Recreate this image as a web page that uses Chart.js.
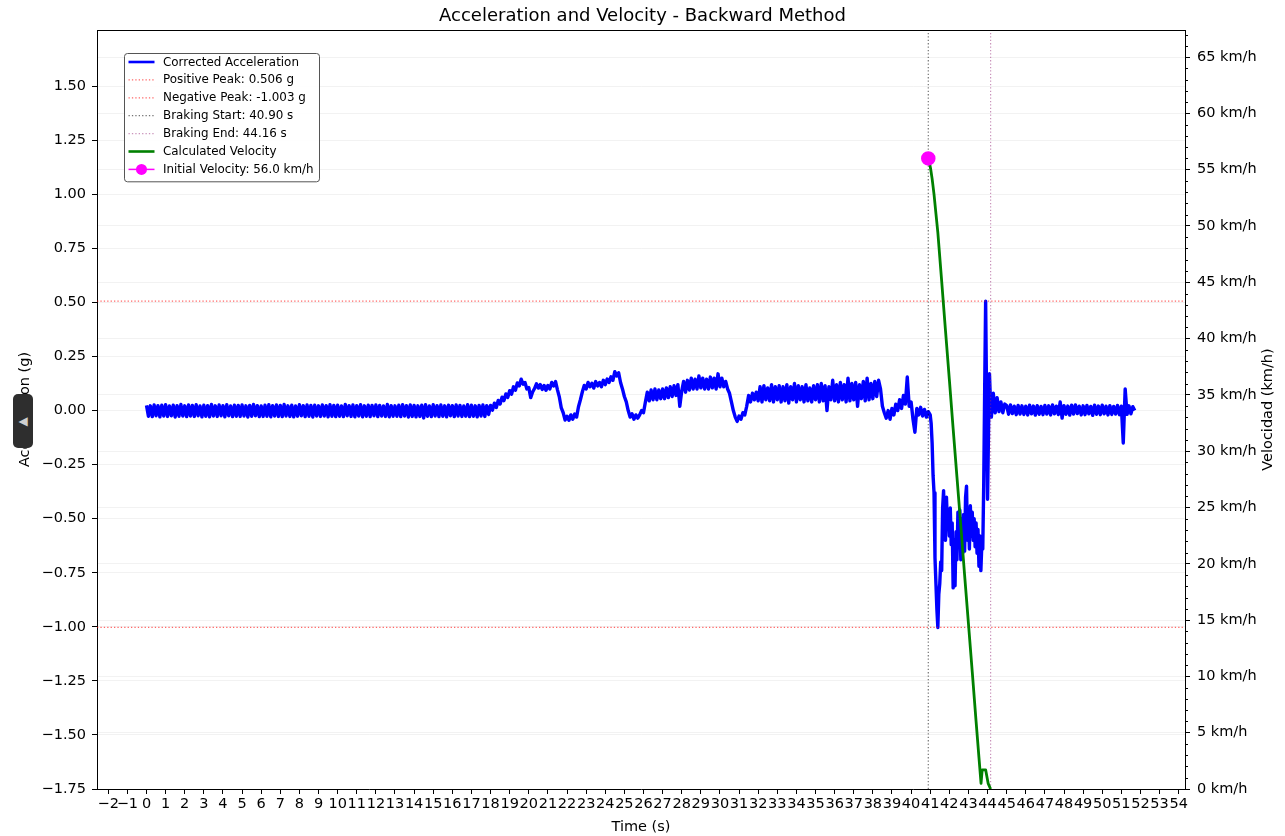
<!DOCTYPE html>
<html>
<head>
<meta charset="utf-8">
<title>Acceleration and Velocity - Backward Method</title>
<script src="https://cdn.jsdelivr.net/npm/chart.js@4.4.1/dist/chart.umd.min.js"></script>
<style>
  html, body { margin: 0; padding: 0; background: #fff; }
  #wrap { position: relative; width: 1285px; height: 836px; }
  #handle {
    position: absolute; left: 13px; top: 394px; width: 20px; height: 54px;
    background: #2e2e2e; border-radius: 5px; color: #cfcfcf;
    font: 12px "DejaVu Sans"; display: flex; align-items: center; justify-content: center;
  }
</style>
</head>
<body>
<div id="wrap">
  <canvas id="chart" width="1285" height="836"></canvas>
  <div id="handle">◀</div>
</div>
<script>
// Aceleración corregida (g). Antes de la frenada: cada 0.1 s desde t = 0, una fila por segundo
const accelBefore = [
  0.024,-0.026,0.022,-0.028,0.026,-0.024,0.023,-0.029,0.025,-0.025,
  0.027,-0.027,0.021,-0.024,0.025,-0.030,0.023,-0.026,0.028,-0.025,
  0.022,-0.028,0.026,-0.025,0.024,-0.027,0.027,-0.024,0.021,-0.029,
  0.025,-0.026,0.023,-0.029,0.028,-0.025,0.022,-0.027,0.026,-0.024,
  0.023,-0.029,0.027,-0.024,0.021,-0.028,0.025,-0.026,0.024,-0.027,
  0.026,-0.025,0.022,-0.030,0.024,-0.026,0.028,-0.024,0.023,-0.028,
  0.021,-0.027,0.025,-0.026,0.027,-0.029,0.023,-0.025,0.026,-0.027,
  0.024,-0.028,0.028,-0.025,0.022,-0.027,0.025,-0.029,0.021,-0.026,
  0.027,-0.024,0.023,-0.028,0.026,-0.026,0.024,-0.030,0.025,-0.025,
  0.022,-0.027,0.026,-0.025,0.023,-0.029,0.027,-0.026,0.024,-0.028,
  0.025,-0.026,0.021,-0.028,0.028,-0.024,0.023,-0.027,0.026,-0.029,
  0.023,-0.025,0.027,-0.029,0.022,-0.026,0.025,-0.028,0.024,-0.024,
  0.026,-0.028,0.024,-0.025,0.021,-0.027,0.028,-0.029,0.023,-0.026,
  0.022,-0.026,0.025,-0.028,0.027,-0.025,0.023,-0.030,0.026,-0.027,
  0.024,-0.029,0.022,-0.027,0.025,-0.034,0.027,-0.026,0.021,-0.028,
  0.027,-0.025,0.023,-0.028,0.026,-0.026,0.022,-0.029,0.025,-0.024,
  0.023,-0.028,0.026,-0.025,0.024,-0.027,0.021,-0.026,0.027,-0.028,
  0.025,-0.026,0.022,-0.029,0.024,-0.025,0.026,-0.027,0.023,-0.018,
  0.024,0.002,0.034,0.014,0.047,0.030,0.062,0.046,0.077,0.061,
  0.092,0.076,0.110,0.094,0.128,0.114,0.145,0.122,0.130,0.100,
  0.106,0.060,0.086,0.102,0.124,0.104,0.120,0.098,0.116,0.094,
  0.116,0.100,0.130,0.114,0.134,0.096,0.062,0.012,-0.010,-0.044,
  -0.026,-0.045,-0.020,-0.040,-0.016,-0.030,0.018,0.050,0.086,0.116,
  0.100,0.130,0.110,0.126,0.104,0.134,0.114,0.130,0.110,0.140,
  0.120,0.146,0.130,0.156,0.140,0.180,0.160,0.175,0.130,0.100,
  0.065,0.040,0.000,-0.030,-0.015,-0.040,-0.020,-0.035,-0.020,0.000,
  -0.010,0.040,0.085,0.045,0.095,0.050,0.100,0.050,0.095,0.055,
  0.100,0.055,0.105,0.060,0.110,0.065,0.115,0.070,0.120,0.020,
  0.090,0.135,0.085,0.140,0.095,0.150,0.100,0.145,0.100,0.160,
  0.105,0.150,0.100,0.145,0.100,0.155,0.105,0.150,0.100,0.170,
  0.110,0.150,0.110,0.135,0.100,0.080,0.040,0.000,-0.030,-0.050,
  -0.025,-0.040,-0.010,-0.020,0.020,0.070,0.040,0.080,0.050,0.085,
  0.045,0.110,0.040,0.115,0.050,0.105,0.045,0.120,0.040,0.110,
  0.050,0.115,0.040,0.110,0.045,0.120,0.035,0.110,0.050,0.125,
  0.040,0.115,0.050,0.110,0.040,0.120,0.045,0.105,0.040,0.115,
  0.050,0.120,0.040,0.125,0.045,0.115,0.000,0.110,0.050,0.140,
  0.045,0.120,0.040,0.130,0.050,0.120,0.040,0.150,0.045,0.125,
  0.050,0.130,0.020,0.120,0.055,0.135,0.045,0.150,0.050,0.125,
  0.055,0.135,0.065,0.140,0.100,0.020,-0.010,-0.035,0.000,-0.040,
  0.010,-0.020,0.030,0.000,0.050,0.010,0.070,0.030,0.155,0.020,
  0.040,-0.040,-0.100,0.010,-0.020,0.015,-0.025,0.005,-0.030,-0.005
];

// Frenada: cada 0.05 s desde t = 41.00 hasta 44.15
const accelBraking = [
  -0.020,-0.060,-0.150,-0.300,-0.380,-0.680,-0.800,-0.920,-1.003,-0.850,
  -0.800,-0.700,-0.740,-0.450,-0.370,-0.550,-0.600,-0.400,-0.520,-0.470,
  -0.580,-0.450,-0.620,-0.520,-0.820,-0.600,-0.810,-0.560,-0.690,-0.470,
  -0.620,-0.460,-0.690,-0.500,-0.660,-0.480,-0.650,-0.400,-0.350,-0.600,
  -0.480,-0.640,-0.440,-0.580,-0.470,-0.600,-0.500,-0.630,-0.520,-0.660,
  -0.550,-0.720,-0.580,-0.740,-0.620,-0.640,-0.340,0.100,0.506,0.050,
  -0.410,-0.100,0.170,0.050
];

// Después de la frenada: cada 0.1 s desde t = 44.2
const accelAfter = [
  -0.030,0.080,-0.010,0.060,-0.005,0.040,-0.010,0.030,
  0.023,-0.017,0.026,-0.014,0.020,-0.019,0.024,-0.016,0.022,-0.018,
  0.020,-0.020,0.025,-0.015,0.021,-0.021,0.023,-0.017,0.019,-0.019,
  0.024,-0.016,0.022,-0.020,0.026,-0.015,0.020,-0.018,0.040,-0.035,
  0.023,-0.017,0.021,-0.021,0.025,-0.016,0.026,-0.014,0.020,-0.020,
  0.022,-0.019,0.024,-0.015,0.019,-0.022,0.025,-0.017,0.021,-0.019,
  0.025,-0.015,0.020,-0.020,0.023,-0.018,0.019,-0.016,0.024,-0.019,
  0.020,-0.150,0.100,-0.017,0.022,-0.015,0.018,0.000
];

// Velocidad integrada hacia atrás durante la frenada
const velTime = [40.90, 40.95, 41.02, 41.10, 41.20, 41.30, 41.40, 41.60, 41.80, 42.00, 42.20, 42.40,
                 42.60, 42.80, 43.00, 43.20, 43.40, 43.55, 43.66, 43.72, 43.90, 44.03, 44.16];
const velKmh  = [56.0, 55.7, 55.1, 54.2, 52.8, 51.1, 49.4, 45.1, 40.7, 36.4, 32.0, 27.7,
                 23.4, 19.0, 14.7, 10.4, 6.0, 2.8, 0.5, 1.7, 1.7, 0.5, 0.0];

const peakPos = 0.506;
const peakNeg = -1.003;
const brakeStart = 40.90;
const brakeEnd = 44.16;
const v0 = 56.0;

const timeTicks = [-2,-1,0,1,2,3,4,5,6,7,8,9,10,11,12,13,14,15,16,17,18,19,20,21,22,23,24,25,26,
                   27,28,29,30,31,32,33,34,35,36,37,38,39,40,41,42,43,44,45,46,47,48,49,50,51,52,53,54];
const accelTicks = [-1.75,-1.50,-1.25,-1.00,-0.75,-0.50,-0.25,0.00,0.25,0.50,0.75,1.00,1.25,1.50];
const speedTicks = [0,5,10,15,20,25,30,35,40,45,50,55,60,65];

const xMin = -2.59, xMax = 54.33;
const aMin = -1.75, aMax = 1.76;
const vMin = 0, vMax = 67.4;

const FONT = 'DejaVu Sans';
const TICK = 14.5;
const minus = s => String(s).replace('-', '\u2212');

const series = (t0, step, values) => values.map((a, i) => ({ x: +(t0 + i * step).toFixed(2), y: a }));
const accelPoints = [
  ...series(0, 0.1, accelBefore),
  ...series(41.0, 0.05, accelBraking),
  ...series(44.2, 0.1, accelAfter)
];
const velPoints = velTime.map((t, i) => ({ x: t, y: velKmh[i] }));

const dotted = [1.3, 2.1];

// marco superior, subdivisiones del eje derecho, título derecho y leyenda
const extras = {
  id: 'extras',
  afterDraw(chart) {
    const { ctx, chartArea: a, scales } = chart;
    ctx.save();
    ctx.strokeStyle = '#000';
    ctx.lineWidth = 1;
    ctx.beginPath();
    ctx.moveTo(a.left, a.top + 0.5);
    ctx.lineTo(a.right, a.top + 0.5);
    ctx.stroke();

    // subdivisiones de 1 km/h
    ctx.beginPath();
    for (let v = vMin; v <= vMax; v++) {
      if (v % 5 === 0) continue;
      const y = Math.round(scales.y1.getPixelForValue(v)) + 0.5;
      ctx.moveTo(a.right, y);
      ctx.lineTo(a.right + 3, y);
    }
    ctx.stroke();

    ctx.fillStyle = '#000';
    ctx.font = TICK + 'px "' + FONT + '"';
    ctx.textAlign = 'center';
    ctx.textBaseline = 'middle';
    ctx.translate(1268, (a.top + a.bottom) / 2);
    ctx.rotate(-Math.PI / 2);
    ctx.fillText('Velocidad (km/h)', 0, 0);
    ctx.restore();

    // leyenda
    ctx.save();
    const bx = a.left + 27.5, by = a.top + 23.5, bw = 195, rowH = 17.9;
    const items = chart.data.datasets;
    const bh = items.length * rowH + 3;
    ctx.beginPath();
    ctx.roundRect(bx, by, bw, bh, 3);
    ctx.fillStyle = 'rgba(255,255,255,0.85)';
    ctx.fill();
    ctx.strokeStyle = '#555';
    ctx.lineWidth = 1;
    ctx.stroke();
    ctx.font = '11.9px "' + FONT + '"';
    ctx.textBaseline = 'middle';
    items.forEach((ds, i) => {
      const y = by + 8.5 + i * rowH;
      const x1 = bx + 4, x2 = bx + 30;
      ctx.strokeStyle = ds.borderColor;
      ctx.lineWidth = Math.min(ds.borderWidth, 2.6);
      ctx.setLineDash(ds.borderDash || []);
      ctx.beginPath();
      ctx.moveTo(x1, y);
      ctx.lineTo(x2, y);
      ctx.stroke();
      ctx.setLineDash([]);
      if (ds.pointRadius > 0) {
        ctx.fillStyle = ds.pointBackgroundColor;
        ctx.beginPath();
        ctx.arc((x1 + x2) / 2, y, 5.5, 0, Math.PI * 2);
        ctx.fill();
      }
      ctx.fillStyle = '#000';
      ctx.fillText(ds.label, bx + 38.5, y + 0.5);
    });
    ctx.restore();
  }
};

new Chart(document.getElementById('chart'), {
  type: 'line',
  data: {
    datasets: [
      {
        label: 'Corrected Acceleration', data: accelPoints, yAxisID: 'y',
        borderColor: '#0000ff', borderWidth: 3.4, borderJoinStyle: 'round',
        pointRadius: 0, order: 5
      },
      {
        label: 'Positive Peak: ' + peakPos.toFixed(3) + ' g', yAxisID: 'y',
        data: [{ x: xMin, y: peakPos }, { x: xMax, y: peakPos }],
        borderColor: 'rgba(255,0,0,0.6)', borderWidth: 1.2, borderDash: dotted, pointRadius: 0, order: 4
      },
      {
        label: 'Negative Peak: ' + peakNeg.toFixed(3) + ' g', yAxisID: 'y',
        data: [{ x: xMin, y: peakNeg }, { x: xMax, y: peakNeg }],
        borderColor: 'rgba(255,0,0,0.6)', borderWidth: 1.2, borderDash: dotted, pointRadius: 0, order: 4
      },
      {
        label: 'Braking Start: ' + brakeStart.toFixed(2) + ' s', yAxisID: 'y',
        data: [{ x: brakeStart, y: aMin }, { x: brakeStart, y: aMax }],
        borderColor: 'rgba(0,0,0,0.55)', borderWidth: 1.2, borderDash: dotted, pointRadius: 0, order: 4
      },
      {
        label: 'Braking End: ' + brakeEnd.toFixed(2) + ' s', yAxisID: 'y',
        data: [{ x: brakeEnd, y: aMin }, { x: brakeEnd, y: aMax }],
        borderColor: 'rgba(150,40,120,0.5)', borderWidth: 1.2, borderDash: dotted, pointRadius: 0, order: 4
      },
      {
        label: 'Calculated Velocity', data: velPoints, yAxisID: 'y1',
        borderColor: '#008000', borderWidth: 2.8, borderJoinStyle: 'round', pointRadius: 0, order: 1
      },
      {
        label: 'Initial Velocity: ' + v0.toFixed(1) + ' km/h', yAxisID: 'y1',
        data: [{ x: brakeStart, y: v0 }], showLine: false,
        borderColor: '#ff00ff', borderWidth: 1.5, pointRadius: 6.5,
        pointBackgroundColor: '#ff00ff', pointBorderColor: '#ff00ff', order: 0
      }
    ]
  },
  options: {
    responsive: false,
    animation: false,
    devicePixelRatio: 1,
    layout: { padding: 0 },
    plugins: {
      legend: { display: false },
      tooltip: { enabled: false },
      title: {
        display: true,
        text: 'Acceleration and Velocity - Backward Method',
        color: '#000',
        font: { family: FONT, size: 18, weight: 'normal', lineHeight: 1.2 },
        padding: { top: 6, bottom: 2.4 }
      }
    },
    scales: {
      x: {
        type: 'linear', min: xMin, max: xMax,
        afterBuildTicks: s => { s.ticks = timeTicks.map(v => ({ value: v })); },
        afterFit: s => { s.height = 47; },
        ticks: {
          autoSkip: false, maxRotation: 0, minRotation: 0, padding: 2,
          color: '#000', font: { family: FONT, size: TICK },
          callback: v => minus(v)
        },
        grid: { drawOnChartArea: false, tickLength: 5, tickColor: '#000' },
        border: { color: '#000', width: 1 },
        title: {
          display: true, text: 'Time (s)', color: '#000',
          font: { family: FONT, size: TICK }, padding: { top: 1, bottom: 0 }
        }
      },
      y: {
        position: 'left', min: aMin, max: aMax,
        afterBuildTicks: s => { s.ticks = accelTicks.map(v => ({ value: v })); },
        afterFit: s => { s.width = 97; },
        ticks: {
          padding: 6, color: '#000', font: { family: FONT, size: TICK },
          callback: v => minus(v.toFixed(2))
        },
        grid: { color: 'rgba(0,0,0,0.05)', tickLength: 5, tickColor: '#000' },
        border: { color: '#000', width: 1 },
        title: {
          display: true, text: 'Acceleration (g)', color: '#000',
          font: { family: FONT, size: TICK }, padding: { top: 17, bottom: 0 }
        }
      },
      y1: {
        position: 'right', min: vMin, max: vMax,
        afterBuildTicks: s => { s.ticks = speedTicks.map(v => ({ value: v })); },
        afterFit: s => { s.width = 100; },
        ticks: {
          padding: 7, color: '#000', font: { family: FONT, size: TICK },
          callback: v => v + ' km/h'
        },
        grid: { color: 'rgba(0,0,0,0.05)', tickLength: 5, tickColor: '#000' },
        border: { color: '#000', width: 1 }
      }
    }
  },
  plugins: [extras]
});
</script>
</body>
</html>
